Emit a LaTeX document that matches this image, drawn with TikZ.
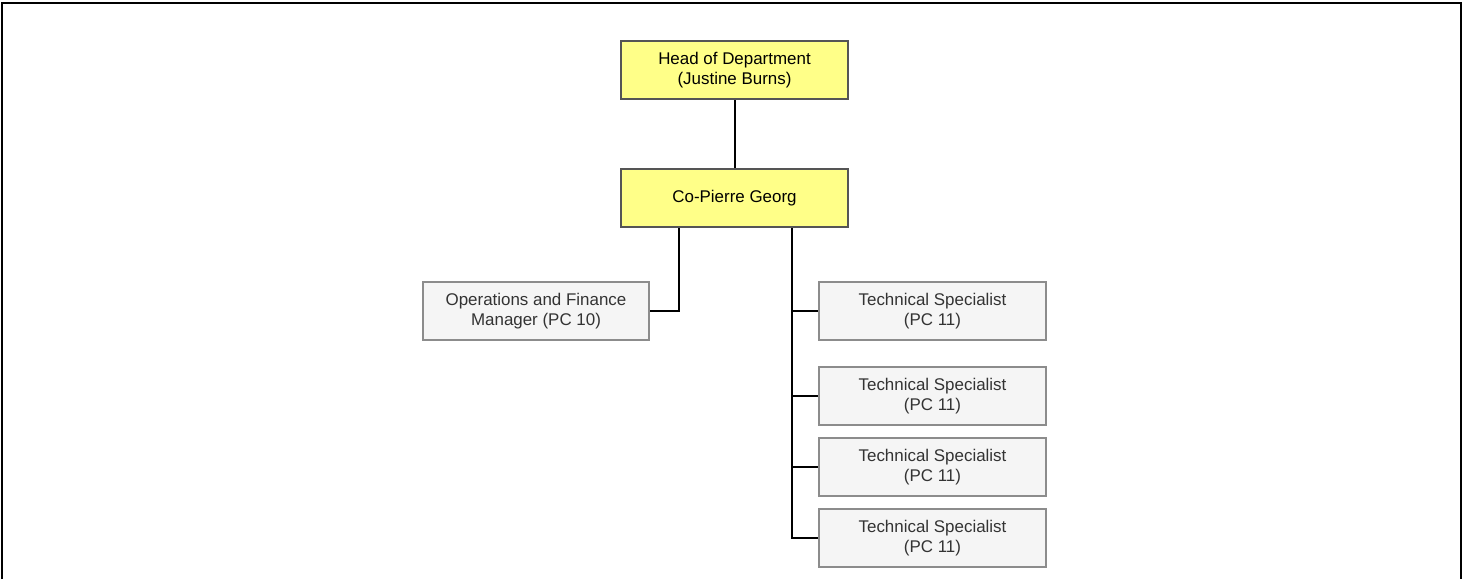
\documentclass[tikz,border=0pt]{standalone}
\usepackage{fontspec}
\setmainfont{Liberation Sans}
\usepackage{tikz}
\definecolor{headfill}{HTML}{FFFF88}
\definecolor{headline}{HTML}{555555}
\definecolor{stafffill}{HTML}{F5F5F5}
\definecolor{staffline}{HTML}{8C8C8C}
\definecolor{stafftext}{HTML}{333333}
\tikzset{
  head/.style = {draw=headline, fill=headfill, line width=1.5pt, align=center,
    minimum width=170pt, minimum height=43.5pt, inner sep=0pt, font=\fontsize{12.7}{15}\selectfont},
  staff/.style = {draw=staffline, fill=stafffill, text=stafftext, line width=1.5pt, align=center,
    minimum width=170pt, minimum height=43.5pt, inner sep=0pt, font=\fontsize{12.7}{15}\selectfont},
  link/.style = {line width=1.5pt, black}
}

\begin{document}
\begin{tikzpicture}[x=0.75pt, y=-0.75pt]
\useasboundingbox (0,0) rectangle (1463,579);
\draw[line width=1.5pt] (2,579)--(2,3)--(1461,3)--(1461,579);

\node[head] (hod) at (734.5,70) {Head of Department\\(Justine Burns)};
\node[head] (co) at (734.5,198) {Co-Pierre Georg};
\node[staff] (ops) at (536,311) {Operations and Finance\\Manager (PC 10)};
\node[staff] (ts1) at (932.5,311) {Technical Specialist\\(PC 11)};
\node[staff] (ts2) at (932.5,396) {Technical Specialist\\(PC 11)};
\node[staff] (ts3) at (932.5,467) {Technical Specialist\\(PC 11)};
\node[staff] (ts4) at (932.5,538) {Technical Specialist\\(PC 11)};

\draw[link] (hod) -- (co);
\draw[link] (co.south -| 679,0) |- (ops.east);
\foreach \t in {ts1,ts2,ts3,ts4}
  \draw[link] (co.south -| 792,0) |- (\t.west);
\end{tikzpicture}
\end{document}
